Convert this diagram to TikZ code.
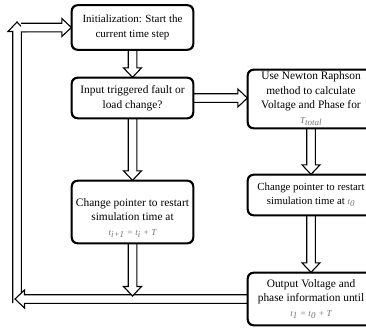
\documentclass[tikz,border=0pt]{standalone}
\usepackage{fontspec}
\setmainfont{Liberation Serif}
\usetikzlibrary{calc}
\tikzset{
  box/.style={draw, line width=1.3pt, rounded corners=6pt, align=center, inner sep=2pt,
    font=\fontsize{11.4}{14.5}\selectfont},
  lbl/.style={align=center, font=\fontsize{11.4}{14.8}\selectfont},
  blk/.style={draw, line width=1.1pt, fill=white, line join=miter}
}
\newcommand{\blkarrow}[2]{%
  \path[blk] let \p1=(#1), \p2=(#2),
    \n1={atan2(\y2-\y1,\x2-\x1)}, \n2={veclen(\x2-\x1,\y2-\y1)} in
    [shift={(\p1)}, rotate=\n1]
    (0pt,-4.3pt) -- ({(\n2-9.5)*1pt},-4.3pt) -- ({(\n2-9.5)*1pt},-9pt) -- ({\n2*1pt},0pt)
    -- ({(\n2-9.5)*1pt},9pt) -- ({(\n2-9.5)*1pt},4.3pt) -- (0pt,4.3pt);}
\newcommand{\tmv}[1]{{\color{black!55}\fontsize{9}{10}\selectfont\itshape #1}}
\begin{document}
\begin{tikzpicture}[x=1pt,y=-1pt]
\useasboundingbox (0,0) rectangle (366,327);
\clip (0,0) rectangle (366,327);
% free ends of the return loop
\coordinate (lb) at (17,303);
\coordinate (lt) at (17,22);
\coordinate (bl) at (15,299);
\coordinate (ts) at (21,27.5);
\coordinate (dn) at (132.5,296);
% boxes
\node[box, minimum width=121pt, minimum height=44pt, font=\fontsize{11}{14.5}\selectfont] (init) at (132.5,27.5) {Initialization: Start the\\current time step};
\node[box, minimum width=121pt, minimum height=40pt] (input) at (132.5,98) {Input triggered fault or\\load change?};
\node[box, minimum width=121pt, minimum height=62pt,
  label={[lbl, yshift=-6pt]center:{Change pointer to restart\\simulation time at\\ \tmv{t}\textsubscript{\tmv{i}\tmv{+1}}\tmv{ = t}\textsubscript{\tmv{i}}\tmv{ + T}}}] (chg1) at (132.5,212) {};
\node[box, minimum width=126pt, minimum height=58pt] (nr) at (311,99) {Use Newton Raphson\\method to calculate\\Voltage and Phase for\\ \tmv{T}\textsubscript{\tmv{total}}};
\node[box, minimum width=126pt, minimum height=40pt, font=\fontsize{10.8}{14}\selectfont] (chg0) at (311,195) {Change pointer to restart\\simulation time at \tmv{t}\textsubscript{\tmv{0}}};
\node[box, minimum width=126pt, minimum height=52pt] (out) at (311,299) {Output Voltage and\\phase information until\\ \tmv{t}\textsubscript{\tmv{1}}\tmv{ = t}\textsubscript{\tmv{0}}\tmv{ + T}};
% connectors
\blkarrow{lb}{lt}
\blkarrow{out.west}{bl}
\blkarrow{ts}{init.west}
\blkarrow{init.south}{input.north}
\blkarrow{input.east}{input.east -| nr.west}
\blkarrow{input.south}{chg1.north}
\blkarrow{chg1.south}{dn}
\blkarrow{nr.south}{chg0.north}
\blkarrow{chg0.south}{out.north}
% redraw box borders on top
\foreach \b in {init,input,chg1,nr,chg0,out}
  \draw[line width=1.3pt, rounded corners=6pt] (\b.south west) rectangle (\b.north east);
\end{tikzpicture}
\end{document}
